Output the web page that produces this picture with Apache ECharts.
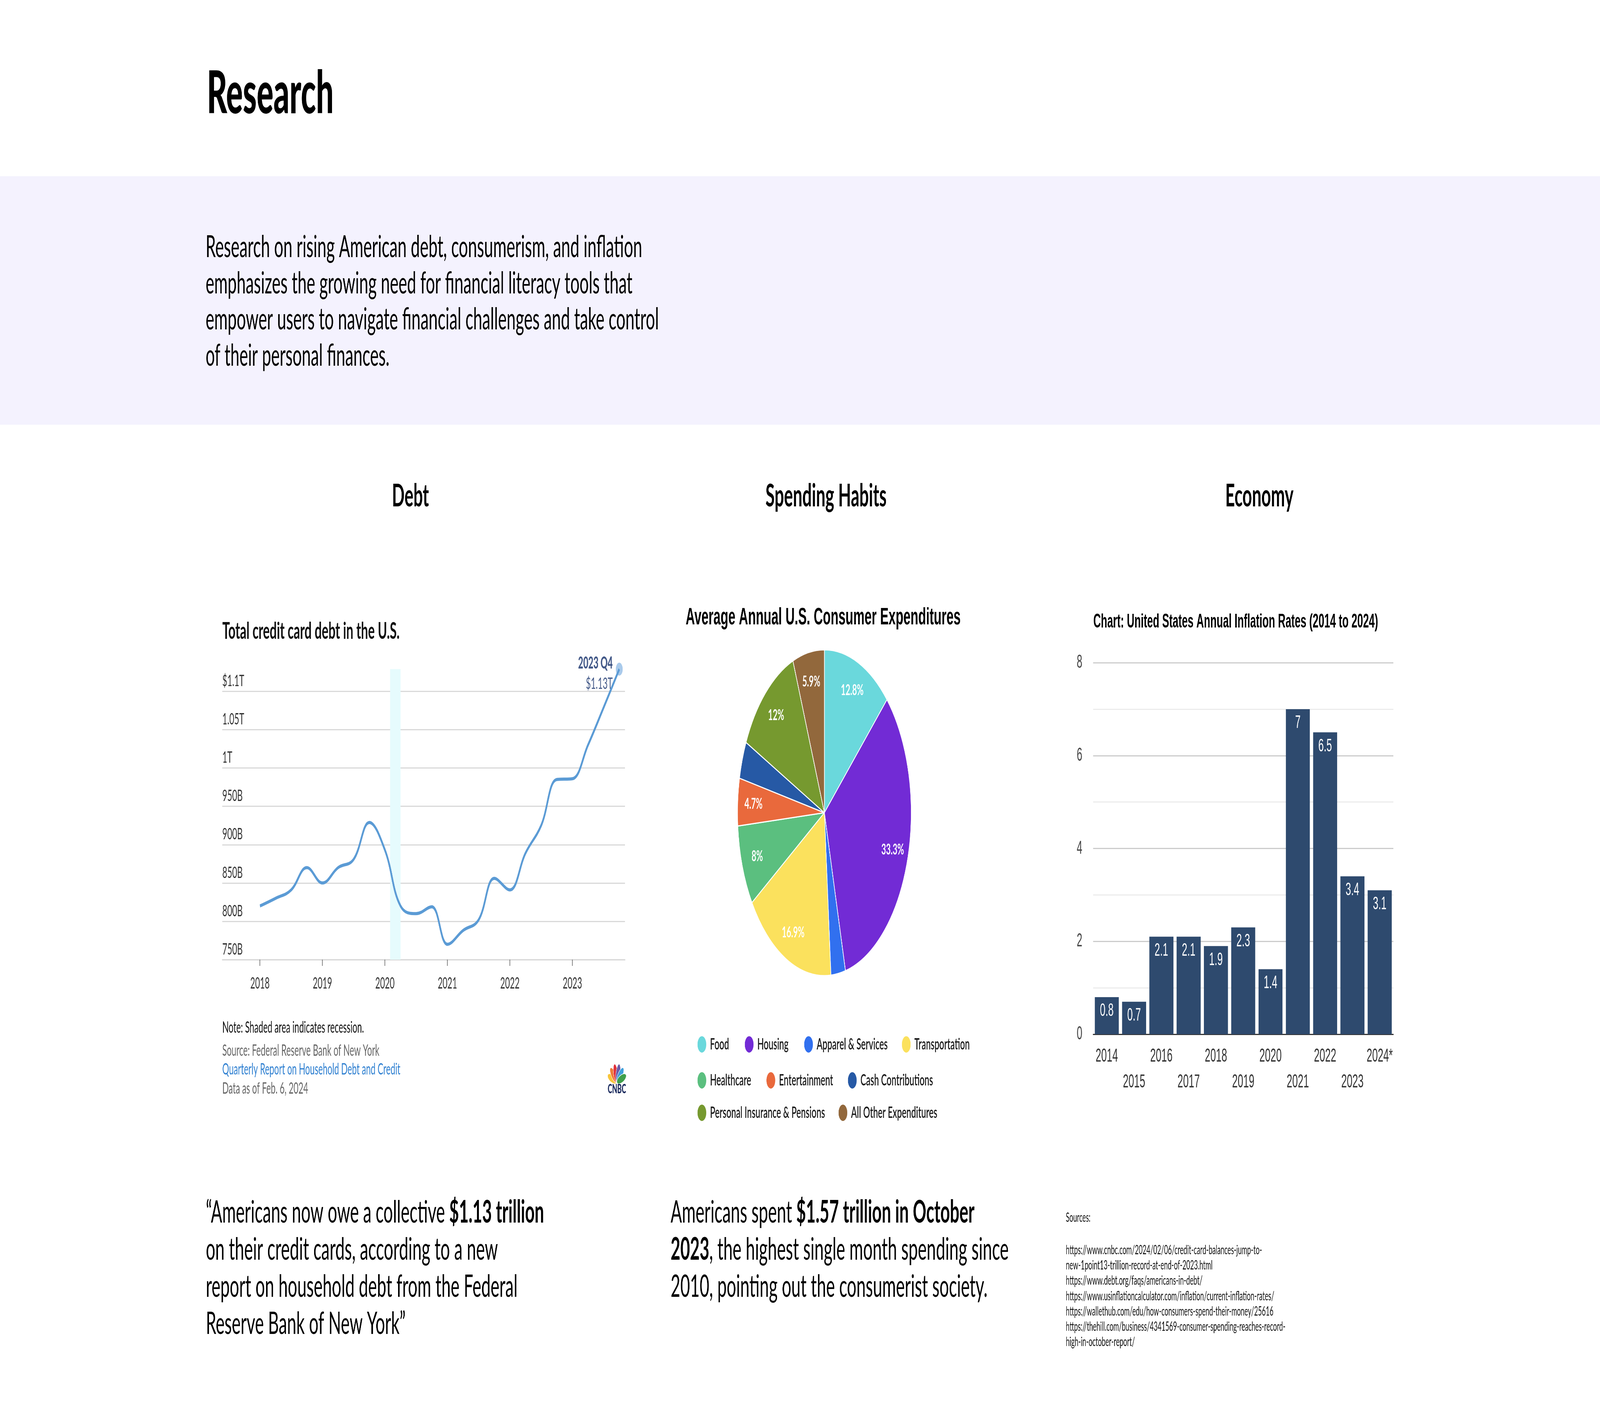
<!DOCTYPE html>
<html><head><meta charset="utf-8">
<script src="https://cdn.jsdelivr.net/npm/echarts@6/dist/echarts.min.js"></script>
<style>html,body{margin:0;padding:0;background:#fff;overflow:hidden}
#c{position:absolute;left:0;top:0;width:7680px;height:3624px;transform-origin:0 0}</style>
</head><body><div id="c"></div>
<script>
// ---------- DATA ----------
const debtQuarters = ['2018 Q1','2018 Q2','2018 Q3','2018 Q4','2019 Q1','2019 Q2','2019 Q3','2019 Q4',
  '2020 Q1','2020 Q2','2020 Q3','2020 Q4','2021 Q1','2021 Q2','2021 Q3','2021 Q4',
  '2022 Q1','2022 Q2','2022 Q3','2022 Q4','2023 Q1','2023 Q2','2023 Q3','2023 Q4'];
const debtValues = [820, 830, 841, 870, 850, 870, 881, 929, 893, 820, 810, 819,
  770, 788, 802, 856, 841, 889, 925, 985, 986, 1030, 1079, 1129];   // $ billions
const debtYearTicks = [2018, 2019, 2020, 2021, 2022, 2023];
const recessionStart = 2020.083;
const recessionEnd = 2020.25;

const spendCategories = ['Food','Housing','Apparel & Services','Transportation','Healthcare',
  'Entertainment','Cash Contributions','Personal Insurance & Pensions','All Other Expenditures'];
const spendShares = [12.8, 33.3, 2.7, 16.9, 8, 4.7, 3.7, 12, 5.9];

const inflationYears = ['2014','2015','2016','2017','2018','2019','2020','2021','2022','2023','2024*'];
const inflationRates = [0.8, 0.7, 2.1, 2.1, 1.9, 2.3, 1.4, 7, 6.5, 3.4, 3.1];

const paragraphLines = [
  'Research on rising American debt, consumerism, and inflation',
  'emphasizes the growing need for financial literacy tools that',
  'empower users to navigate financial challenges and take control',
  'of their personal finances.'];
const quote1 = '\u201CAmericans now owe a collective {b|$1.13 trillion}\non their credit cards, according to a new\nreport on household debt from the Federal\nReserve Bank of New York\u201D';
const quote2 = 'Americans spent {b|$1.57 trillion in October}\n{b|2023}, the highest single month spending since\n2010, pointing out the consumerist society.';
const sourceLines = [
  'https://www.cnbc.com/2024/02/06/credit-card-balances-jump-to-',
  'new-1point13-trillion-record-at-end-of-2023.html',
  'https://www.debt.org/faqs/americans-in-debt/',
  'https://www.usinflationcalculator.com/inflation/current-inflation-rates/',
  'https://wallethub.com/edu/how-consumers-spend-their-money/25616',
  'https://thehill.com/business/4341569-consumer-spending-reaches-record-',
  'high-in-october-report/'];

// ---------- STYLE / LAYOUT ----------
const LATO = 'Lato, "Noto Sans", sans-serif';
const ARIAL = '"Liberation Sans", Arial, sans-serif';
const spendColors = ['#6ad8dc','#722bd5','#3170ef','#fbe15d','#5bbf7f','#e9693c','#2659a5','#76992f','#92683c'];
const legendPos = [[3346,2650],[3573,2650],[3858,2650],[4327,2650],
                   [3346,2742],[3677,2742],[4068,2742],
                   [3346,2825],[4023,2825]];
const petalColors = ['#f8c53a','#ee7b3b','#e0313b','#6b5ba8','#40a0db','#3f9f4a'];
const petalAngles = [-68,-41,-14,14,41,68];

function T(x, y, text, o) {
  o = o || {};
  const align = o.align || 'left', va = o.va || 'middle';
  const st = {
    text: text, fill: o.fill || '#000', fontFamily: o.family || LATO,
    fontSize: o.size || 40, fontWeight: o.weight || 'normal',
    align: align, textAlign: align, verticalAlign: va, textVerticalAlign: va
  };
  if (o.lineHeight) st.lineHeight = o.lineHeight;
  if (o.rich) st.rich = o.rich;
  return { type: 'text', x: x, y: y, silent: true, z: 10, style: st };
}

// ---------- BUILD ----------
const debtData = debtQuarters.map((q, i) => {
  const yr = parseInt(q.slice(0, 4), 10), qt = parseInt(q.slice(6), 10);
  return [yr + (qt - 1) / 4, debtValues[i]];
});
const lastPoint = debtData[debtData.length - 1];
const lastLabel = debtQuarters[debtQuarters.length - 1];
const lastValueText = '$' + (debtValues[debtValues.length - 1] / 1000).toFixed(2) + 'T';

const pieMain = spendCategories.map((n, i) => ({ name: n, value: spendShares[i], itemStyle: { color: spendColors[i] } }));
const pieLabels = spendCategories.map((n, i) => ({ name: n, value: spendShares[i], label: { show: spendShares[i] >= 4 } }));

const graphics = [];
graphics.push({ type: 'rect', shape: { x: 0, y: 451, width: 7680, height: 636 }, style: { fill: '#f4f2fe' }, silent: true, z: 0 });
graphics.push(T(993, 242, 'Research', { size: 150, weight: 900 }));
graphics.push(T(987, 587, paragraphLines.join('\n'), { size: 78, lineHeight: 92.5, va: 'top' }));
graphics.push(T(1970, 1270, 'Debt', { size: 80, weight: 'bold', align: 'center' }));
graphics.push(T(3965, 1270, 'Spending Habits', { size: 80, weight: 'bold', align: 'center' }));
graphics.push(T(6045, 1270, 'Economy', { size: 80, weight: 'bold', align: 'center' }));

// Debt panel texts
graphics.push(T(1067, 1616, 'Total credit card debt in the U.S.', { size: 60, weight: 'bold', fill: '#111' }));
graphics.push(T(1067, 2630, 'Note: Shaded area indicates recession.', { size: 40.5, fill: '#111' }));
graphics.push(T(1067, 2689, 'Source: Federal Reserve Bank of New York', { size: 40.5, fill: '#666' }));
graphics.push(T(1067, 2737, 'Quarterly Report on Household Debt and Credit', { size: 40.5, fill: '#2f80d1' }));
graphics.push(T(1067, 2786, 'Data as of Feb. 6, 2024', { size: 40.5, fill: '#666' }));
petalColors.forEach((c, i) => {
  graphics.push({ type: 'ellipse', x: 2961, y: 2770, rotation: -petalAngles[i] * Math.PI / 180,
    shape: { cx: 0, cy: -24, rx: 10, ry: 24 }, style: { fill: c, stroke: '#fff', lineWidth: 1.5 }, silent: true, z: 10 });
});
graphics.push(T(2961, 2788, 'CNBC', { size: 32, weight: 900, fill: '#1b2b5e', align: 'center' }));

// Pie & bar titles
graphics.push(T(3951, 1581, 'Average Annual U.S. Consumer Expenditures', { size: 61, weight: 'bold', family: ARIAL, align: 'center' }));
graphics.push(T(5248, 1592, 'Chart: United States Annual Inflation Rates (2014 to 2024)', { size: 50, weight: 'bold', family: ARIAL }));

// Quotes
const qrich = { b: { fontFamily: LATO, fontSize: 80, fontWeight: 'bold', lineHeight: 95, fill: '#000' } };
graphics.push(T(988, 3056, quote1, { size: 80, lineHeight: 95, va: 'top', rich: qrich }));
graphics.push(T(3219, 3056, quote2, { size: 80, lineHeight: 95, va: 'top', rich: qrich }));

// Sources
graphics.push(T(5116, 3117, 'Sources:', { size: 32, fill: '#111' }));
graphics.push(T(5116, 3180, sourceLines.join('\n'), { size: 32, lineHeight: 39.2, va: 'top', fill: '#111' }));

const option = {
  animation: false,
  backgroundColor: '#ffffff',
  graphic: { elements: graphics },
  grid: [
    { left: 1067, top: 1712.6, width: 1933, height: 743.4, outerBoundsMode: 'none' },
    { left: 5247, top: 1696, width: 1441, height: 951, outerBoundsMode: 'none' }
  ],
  legend: spendCategories.map((name, i) => ({
    data: [name], left: legendPos[i][0], top: legendPos[i][1], padding: 0, orient: 'horizontal',
    icon: 'circle', itemWidth: 44, itemHeight: 44, selectedMode: false,
    textStyle: { fontFamily: LATO, fontSize: 41, fontWeight: 600, color: '#1a1a1a', padding: [0, 0, 0, 12] }
  })),
  xAxis: [
    { type: 'value', gridIndex: 0, min: 2017.3975, max: 2023.842,
      splitLine: { show: false },
      axisLine: { show: true, lineStyle: { color: '#d5d5d5', width: 3 } },
      axisTick: { show: true, customValues: debtYearTicks, length: 16, lineStyle: { color: '#555', width: 3 } },
      axisLabel: { customValues: debtYearTicks, formatter: v => String(v), fontSize: 40, color: '#333', margin: 41, fontFamily: LATO } },
    { type: 'category', gridIndex: 1, data: inflationYears,
      axisLine: { lineStyle: { color: '#333', width: 3 } }, axisTick: { show: false },
      axisLabel: { interval: 0, formatter: (v, i) => (i % 2 ? '\n' + v : v), fontSize: 48, color: '#333',
        lineHeight: 66, margin: 24, fontFamily: ARIAL } }
  ],
  yAxis: [
    { type: 'value', gridIndex: 0, min: 750, max: 'dataMax', interval: 50,
      axisLine: { show: false }, axisTick: { show: false },
      splitLine: { show: true, showMaxLine: false, lineStyle: { color: '#d9d9d9', width: 3 } },
      axisLabel: { inside: true, margin: 0, align: 'left', verticalAlign: 'bottom', showMaxLabel: false,
        padding: [0, 0, 6, 0], fontSize: 41, color: '#333', fontFamily: LATO,
        formatter: v => {
          if (v % 50 !== 0) return '';
          if (v >= 1000) { const t = (v / 1000) + 'T'; return v === 1100 ? '$' + t : t; }
          return v + 'B';
        } } },
    { type: 'value', gridIndex: 1, min: 0, max: 8, interval: 2,
      axisLine: { show: false }, axisTick: { show: false },
      axisLabel: { fontSize: 48, color: '#444', margin: 52, fontFamily: ARIAL },
      splitLine: { lineStyle: { color: '#cccccc', width: 3 } },
      minorTick: { show: false, splitNumber: 2 },
      minorSplitLine: { show: true, lineStyle: { color: '#ececec', width: 3 } } }
  ],
  series: [
    { type: 'line', xAxisIndex: 0, yAxisIndex: 0, data: debtData, smooth: 0.4, symbol: 'none', clip: false,
      lineStyle: { color: '#5b9bd5', width: 8 }, z: 3, silent: true,
      markArea: { silent: true, itemStyle: { color: '#e6fbfd' }, data: [[{ xAxis: recessionStart }, { xAxis: recessionEnd }]] } },
    { type: 'scatter', xAxisIndex: 0, yAxisIndex: 0, data: [lastPoint], symbolSize: 33, z: 2, silent: true,
      itemStyle: { color: '#93bde6' },
      label: { show: true, position: 'left', distance: 15, offset: [0, 11],
        formatter: '{a|' + lastLabel + '}\n{b|' + lastValueText + '}',
        rich: { a: { fontFamily: LATO, fontSize: 42, fontWeight: 900, color: '#14306a', lineHeight: 53, align: 'right' },
                b: { fontFamily: LATO, fontSize: 41, color: '#14306a', lineHeight: 53, align: 'right' } } } },
    { type: 'pie', center: [3957, 2080], radius: [0, 417], startAngle: 90, clockwise: true, data: pieMain,
      label: { show: false }, labelLine: { show: false }, silent: true, emphasis: { disabled: true },
      itemStyle: { borderColor: '#ffffff', borderWidth: 3 } },
    { type: 'pie', center: [3957, 2080], radius: [259, 417], startAngle: 90, clockwise: true, data: pieLabels,
      avoidLabelOverlap: false, silent: true, emphasis: { disabled: true }, z: 5,
      itemStyle: { color: 'rgba(0,0,0,0)', borderWidth: 0 }, labelLine: { show: false },
      label: { position: 'inside', formatter: '{c}%', color: '#ffffff', fontSize: 39, fontWeight: 'bold', fontFamily: LATO } },
    { type: 'bar', xAxisIndex: 1, yAxisIndex: 1, data: inflationRates, barCategoryGap: '12%', silent: true,
      itemStyle: { color: '#2e4a6e' },
      label: { show: true, position: 'insideTop', distance: 12, color: '#ffffff', fontSize: 47, fontFamily: ARIAL } }
  ]
};
// Fit the fixed 7680x3624 layout to the actual window.
const box = document.getElementById('c');
function fit() {
  const sx = window.innerWidth / 7680, sy = window.innerHeight / 3624;
  box.style.transform = 'scale(' + sx + ',' + sy + ')';
}
fit();
const chart = echarts.init(box, null, { renderer: 'canvas', width: 7680, height: 3624 });
chart.setOption(option);
window.addEventListener('resize', fit);
</script></body></html>
